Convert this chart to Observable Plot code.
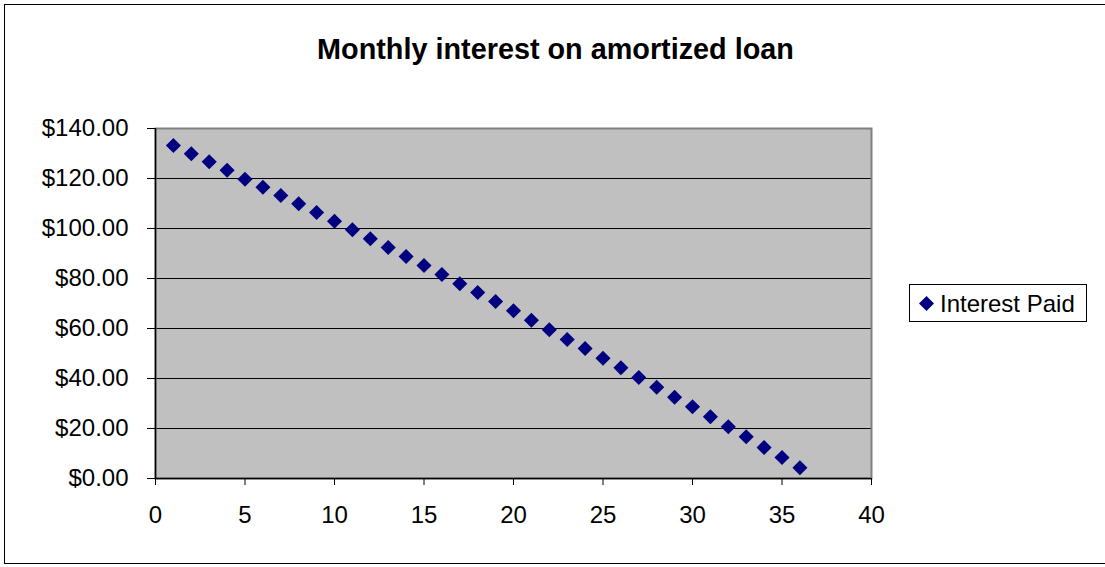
<!DOCTYPE html>
<html>
<head>
<meta charset="utf-8">
<script src="https://cdn.jsdelivr.net/npm/d3@7"></script>
<script src="https://cdn.jsdelivr.net/npm/@observablehq/plot@0.6"></script>
<style>
  html, body { margin: 0; padding: 0; background: #fff; }
  #wrap { position: relative; width: 1105px; height: 567px; overflow: hidden; font-family: "Liberation Sans", Arial, sans-serif; }
  #border { position: absolute; left: 4px; top: 4px; width: 1120px; height: 560px; border: 1.5px solid #000; box-sizing: border-box; pointer-events: none; }
  #title { position: absolute; left: 0; width: 1111px; top: 31px; text-align: center; font-weight: bold; font-size: 28.8px; line-height: 36px; color: #000; }
  #legend { position: absolute; left: 909px; top: 284px; width: 178px; height: 38px; border: 1px solid #000; box-sizing: border-box; background: #fff; font-size: 24px; }
  #legend svg { position: absolute; left: 8px; top: 10px; }
  #legend span { position: absolute; left: 30px; top: 5px; line-height: 28px; white-space: nowrap; }
  #chart { position: absolute; left: 0; top: 0; }
</style>
</head>
<body>
<div id="wrap">
  <div id="chart"></div>
  <div id="title">Monthly interest on amortized loan</div>
  <div id="legend"><svg width="17" height="17" viewBox="-8.5 -8.5 17 17"><path d="M0,-7.5L7.5,0L0,7.5L-7.5,0Z" fill="#000080"/></svg><span>Interest Paid</span></div>
  <div id="border"></div>
</div>
<script>
const seriesName = "Interest Paid";
const months = [1,2,3,4,5,6,7,8,9,10,11,12,13,14,15,16,17,18,19,20,21,22,23,24,25,26,27,28,29,30,31,32,33,34,35,36];
const interest = [133.2,129.9,126.7,123.3,119.7,116.5,113.2,109.9,106.4,102.9,99.5,95.9,92.4,88.8,85.2,81.6,77.9,74.4,70.8,67.1,63.3,59.5,55.6,52.0,48.1,44.3,40.4,36.5,32.5,28.7,24.7,20.7,16.7,12.4,8.4,4.3];
const xTicks = [0,5,10,15,20,25,30,35,40];
const yTicks = [0,20,40,60,80,100,120,140];

const data = months.map((m, i) => ({month: m, value: interest[i]}));

const chart = Plot.plot({
  width: 1105,
  height: 567,
  marginLeft: 155,
  marginRight: 234,
  marginTop: 128,
  marginBottom: 89,
  style: { fontFamily: '"Liberation Sans", Arial, sans-serif', fontSize: "24px", color: "#000", background: "transparent" },
  x: { domain: [0, 40], ticks: xTicks, label: null },
  y: { domain: [0, 140], ticks: yTicks, label: null, tickFormat: d3.format("$,.2f") },
  marks: [
    Plot.frame({ fill: "#c0c0c0", stroke: null }),
    Plot.ruleY(yTicks.filter(t => t > 0 && t < 140), { stroke: "#000", strokeWidth: 1 }),
    Plot.frame({ stroke: "#808080", strokeWidth: 2 }),
    Plot.ruleX([0], { stroke: "#000", strokeWidth: 1.5 }),
    Plot.ruleY([0], { stroke: "#000", strokeWidth: 1.5 }),
    Plot.axisX({ ticks: xTicks, tickSize: 7, tickPadding: 20, stroke: "#000", fill: "#000" }),
    Plot.axisY({ ticks: yTicks, tickSize: 8, tickPadding: 19, tickFormat: d3.format("$,.2f"), stroke: "#000", fill: "#000" }),
    Plot.dot(data, { x: "month", y: "value", symbol: "diamond2", r: 6.8, fill: "#000080", stroke: null, title: d => `${seriesName}: ${d.value}` })
  ]
});
document.getElementById("chart").appendChild(chart);
</script>
</body>
</html>
